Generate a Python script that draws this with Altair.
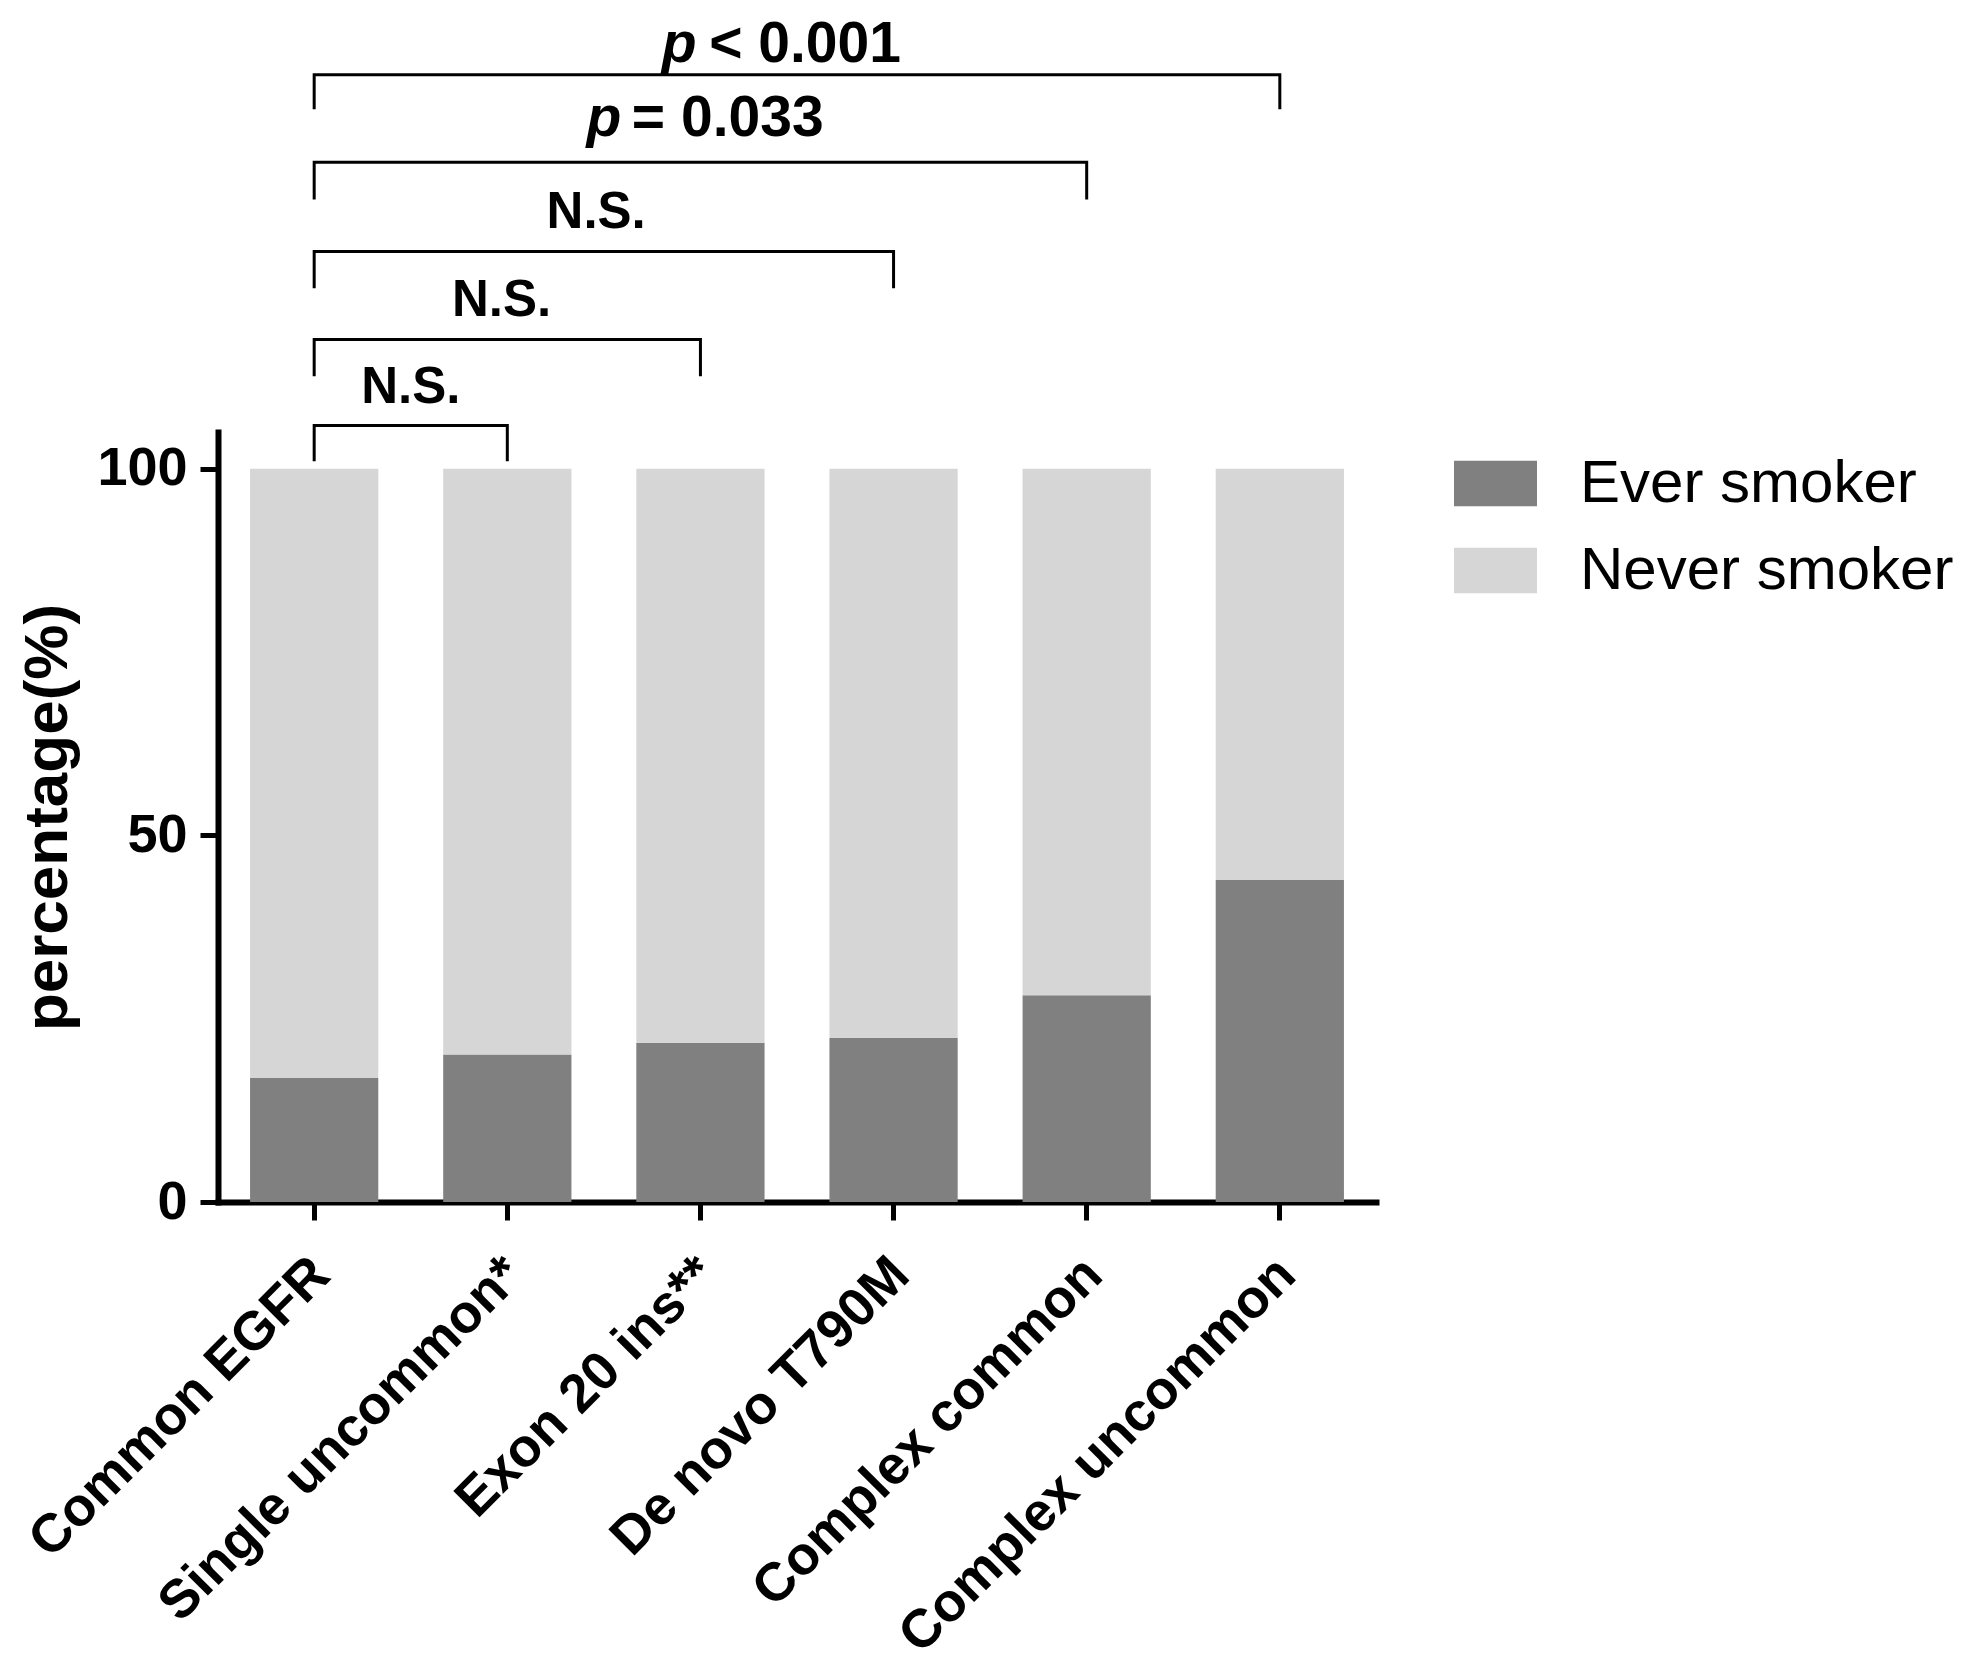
import altair as alt
import pandas as pd

# ---- data ----
categories = ["Common EGFR", "Single uncommon*", "Exon 20 ins**",
              "De novo T790M", "Complex common", "Complex uncommon"]
ever_smoker = [16.9, 20.1, 21.7, 22.4, 28.2, 43.9]
never_smoker = [83.1, 79.9, 78.3, 77.6, 71.8, 56.1]
groups = ["Ever smoker", "Never smoker"]
group_colors = ["#808080", "#d6d6d6"]

# significance brackets (left end = first category, index 0)
bracket_right = [1, 2, 3, 4, 5]
bracket_top = [105.9, 117.6, 129.6, 141.8, 153.7]
bracket_bottom = [101.0, 112.6, 124.6, 136.7, 149.0]

ns_text = ["N.S.", "N.S.", "N.S."]
ns_x = [0.5, 0.97, 1.46]
ns_y = [108.9, 120.8, 132.8]

pval_text = ["= 0.033", "< 0.001"]
pval_p_x = [1.59, 1.98]
pval_rest_x = [1.645, 2.045]
pval_y = [145.4, 155.4]

# ---- layout ----
W, H = 1158, 770
Y_MAX = 105
PAD_INNER = 0.336
PAD_OUTER = 0.166
EDGE = 0.5 + PAD_OUTER - PAD_INNER / 2
XQ_DOMAIN = [-EDGE, len(categories) - 1 + EDGE]

FONT = "Liberation Sans"
ANN_FONT = "Liberation Sans"
NS_SIZE = 51
P_SIZE = 57

# ---- tables ----
rows = []
for c, e, n in zip(categories, ever_smoker, never_smoker):
    rows.append({"category": c, "group": groups[0], "value": e, "ord": 0})
    rows.append({"category": c, "group": groups[1], "value": n, "ord": 1})
bar_df = pd.DataFrame(rows)

brows = []
for i, (r, t, b) in enumerate(zip(bracket_right, bracket_top, bracket_bottom)):
    brows += [
        {"bracket": i, "ord": 0, "x": 0, "y": b},
        {"bracket": i, "ord": 1, "x": 0, "y": t},
        {"bracket": i, "ord": 2, "x": r, "y": t},
        {"bracket": i, "ord": 3, "x": r, "y": b},
    ]
br_df = pd.DataFrame(brows)
ns_df = pd.DataFrame({"x": ns_x, "y": ns_y, "t": ns_text})
p_df = pd.DataFrame({"x": pval_p_x, "y": pval_y, "t": ["p"] * len(pval_y)})
rest_df = pd.DataFrame({"x": pval_rest_x, "y": pval_y, "t": pval_text})

# ---- bars ----
bars = alt.Chart(bar_df).mark_bar().encode(
    x=alt.X("category:N", sort=categories,
            scale=alt.Scale(paddingInner=PAD_INNER, paddingOuter=PAD_OUTER),
            axis=alt.Axis(title=None, labelAngle=-45, labelFont=FONT,
                          labelFontSize=54, labelFontWeight="bold",
                          labelColor="black", labelPadding=27,
                          labelOffset=-12,
                          tickSize=18, tickWidth=5, tickColor="black",
                          domainColor="black", domainWidth=6,
                          domainCap="square", grid=False, labelLimit=1000)),
    y=alt.Y("value:Q", stack="zero",
            scale=alt.Scale(domain=[0, Y_MAX], nice=False),
            axis=alt.Axis(values=[0, 50, 100], title="percentage(%)",
                          titleFont=FONT, titleFontSize=62,
                          titleFontWeight="bold", titleColor="black",
                          titlePadding=17,
                          labelFont=FONT, labelFontSize=54,
                          labelFontWeight="bold", labelColor="black",
                          labelPadding=13, tickSize=18, tickWidth=5,
                          tickColor="black", domainColor="black",
                          domainWidth=6, domainCap="square", grid=False)),
    color=alt.Color("group:N",
                    scale=alt.Scale(domain=groups, range=group_colors),
                    legend=alt.Legend(title=None, orient="none",
                                      legendX=1236, legendY=10,
                                      symbolType="M-1,-0.55H1V0.55H-1Z",
                                      symbolSize=6889, symbolStrokeWidth=0,
                                      symbolOpacity=1,
                                      labelFont=FONT, labelFontSize=60,
                                      labelColor="black", labelOffset=43,
                                      rowPadding=15, padding=0,
                                      labelLimit=1000)),
    order=alt.Order("ord:Q", sort="ascending"),
)

# ---- annotations ----
xq = alt.X("x:Q", scale=alt.Scale(domain=XQ_DOMAIN, nice=False, zero=False), axis=None)
yq = alt.Y("y:Q", scale=alt.Scale(domain=[0, Y_MAX], nice=False, zero=False), axis=None)

lines = alt.Chart(br_df).mark_line(
    color="black", strokeWidth=3, strokeJoin="miter", strokeCap="butt"
).encode(x=xq, y=yq, detail="bracket:N", order="ord:Q")

ns = alt.Chart(ns_df).mark_text(
    font=ANN_FONT, fontSize=NS_SIZE, fontWeight="bold", color="black",
    align="center", baseline="alphabetic"
).encode(x=xq, y=yq, text="t:N")

p_marks = alt.Chart(p_df).mark_text(
    font=ANN_FONT, fontSize=P_SIZE, fontWeight="bold", fontStyle="italic",
    color="black", align="right", baseline="alphabetic"
).encode(x=xq, y=yq, text="t:N")

rest = alt.Chart(rest_df).mark_text(
    font=ANN_FONT, fontSize=P_SIZE, fontWeight="bold", color="black",
    align="left", baseline="alphabetic"
).encode(x=xq, y=yq, text="t:N")

chart = alt.layer(bars, lines, ns, p_marks, rest).resolve_scale(
    x="independent", y="independent"
).properties(
    width=W, height=H,
    autosize=alt.AutoSizeParams(type="none"),
    padding={"left": 210, "top": 424, "right": 584, "bottom": 469},
    background="white",
).configure_view(stroke=None)

chart.save("out.html", embed_options={"renderer": "svg", "actions": False})
